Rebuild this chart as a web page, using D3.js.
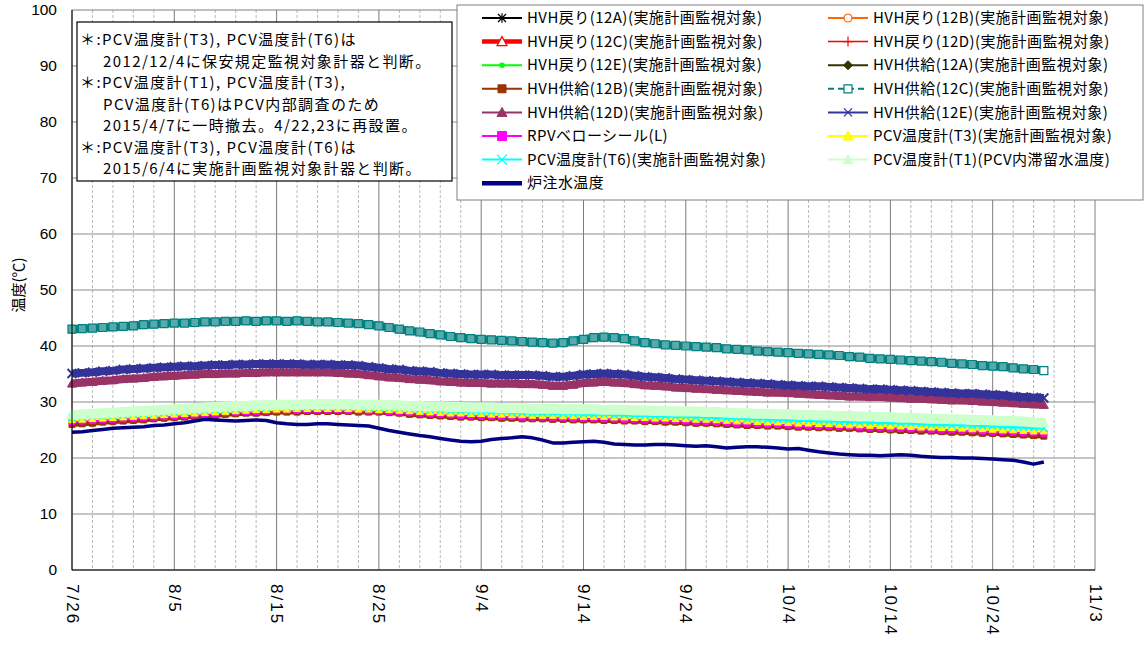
<!DOCTYPE html>
<html><head><meta charset="utf-8">
<script src="https://cdn.jsdelivr.net/npm/d3@7"></script>
<style>
body{margin:0;background:#fff}
svg{display:block}
text{font-family:"Noto Sans CJK JP","Liberation Sans",sans-serif;fill:#000}
.num{font-family:"Liberation Sans",Arial,sans-serif}
</style>
</head><body>
<svg id="c" width="1146" height="645"></svg>
<script>
// ---------------- data ----------------
const startDate = "2015-07-26";           // first daily value
const xTickLabels = ["7/26","8/5","8/15","8/25","9/4","9/14","9/24","10/4","10/14","10/24","11/3"];
const yTicks = [0,10,20,30,40,50,60,70,80,90,100];
const yTitle = "温度(℃)";

// HVH return lines and HVH supply 12A: nothing visible in this period
const hvhReturn12A = [];
const hvhReturn12B = [];
const hvhReturn12C = [];
const hvhReturn12D = [];
const hvhReturn12E = [];
const hvhSupply12A = [];

const hvhSupply12B = [
26.0,26.1,26.2,26.4,26.5,26.6,26.7,26.8,27.0,27.1,
27.2,27.3,27.4,27.5,27.6,27.8,27.9,28.0,28.0,28.1,
28.2,28.2,28.2,28.3,28.3,28.3,28.3,28.3,28.2,28.2,
28.2,28.1,28.0,27.8,27.7,27.6,27.5,27.4,27.3,27.3,
27.2,27.2,27.1,27.1,27.0,27.0,27.0,26.9,26.9,26.8,
26.8,26.8,26.7,26.7,26.6,26.6,26.5,26.5,26.4,26.4,
26.3,26.2,26.2,26.1,26.0,25.9,25.8,25.8,25.7,25.7,
25.6,25.5,25.5,25.4,25.4,25.3,25.3,25.2,25.1,25.1,
25.0,24.9,24.9,24.8,24.8,24.7,24.6,24.6,24.5,24.4,
24.4,24.3,24.2,24.1,24.0,23.9];

const hvhSupply12C = [
43.0,43.1,43.2,43.3,43.4,43.5,43.6,43.8,43.9,44.0,
44.1,44.1,44.2,44.3,44.3,44.4,44.4,44.5,44.4,44.5,
44.5,44.4,44.5,44.4,44.3,44.3,44.2,44.1,44.0,43.8,
43.6,43.3,43.0,42.7,42.5,42.2,42.0,41.7,41.5,41.3,
41.2,41.1,41.0,40.9,40.8,40.7,40.6,40.5,40.6,40.9,
41.2,41.5,41.6,41.5,41.3,40.9,40.6,40.4,40.2,40.1,
40.0,39.9,39.8,39.7,39.5,39.4,39.3,39.1,39.0,38.9,
38.8,38.7,38.6,38.5,38.4,38.3,38.1,38.0,37.8,37.7,
37.6,37.5,37.4,37.3,37.2,37.1,36.9,36.8,36.7,36.5,
36.4,36.3,36.1,35.9,35.8,35.6];

const hvhSupply12D = [
33.3,33.5,33.6,33.8,33.9,34.1,34.2,34.3,34.5,34.6,
34.7,34.8,34.9,35.0,35.0,35.1,35.1,35.2,35.2,35.3,
35.3,35.3,35.3,35.3,35.3,35.3,35.2,35.1,35.0,34.8,
34.6,34.4,34.3,34.1,34.0,33.9,33.7,33.6,33.5,33.4,
33.4,33.3,33.3,33.3,33.2,33.2,33.1,32.9,32.9,33.1,
33.4,33.5,33.6,33.5,33.4,33.2,33.0,32.9,32.8,32.6,
32.5,32.4,32.3,32.2,32.1,32.0,31.9,31.8,31.7,31.7,
31.6,31.5,31.4,31.3,31.2,31.1,31.0,31.0,30.9,30.9,
30.8,30.7,30.6,30.6,30.5,30.4,30.3,30.3,30.2,30.1,
30.0,29.9,29.8,29.7,29.6,29.5];

const hvhSupply12E = [
35.1,35.2,35.3,35.5,35.6,35.8,35.9,36.0,36.1,36.2,
36.3,36.4,36.4,36.5,36.6,36.6,36.7,36.7,36.8,36.8,
36.8,36.8,36.8,36.7,36.7,36.7,36.6,36.6,36.5,36.3,
36.1,35.9,35.8,35.6,35.5,35.4,35.2,35.1,35.0,34.9,
34.9,34.9,34.8,34.8,34.8,34.8,34.7,34.5,34.5,34.7,
34.9,35.0,35.1,35.0,34.9,34.7,34.5,34.4,34.3,34.1,
34.0,33.9,33.8,33.7,33.6,33.5,33.4,33.3,33.2,33.1,
33.0,32.9,32.8,32.8,32.7,32.6,32.5,32.4,32.3,32.3,
32.2,32.1,32.0,31.9,31.8,31.7,31.6,31.5,31.5,31.4,
31.3,31.2,31.0,30.9,30.8,30.7];

const rpvBellowsSeal = [
26.5,26.6,26.7,26.8,26.9,27.0,27.1,27.2,27.3,27.4,
27.5,27.6,27.7,27.8,27.9,28.1,28.2,28.3,28.3,28.4,
28.5,28.5,28.5,28.6,28.6,28.6,28.6,28.5,28.5,28.4,
28.4,28.3,28.2,28.1,28.0,27.9,27.8,27.7,27.6,27.6,
27.5,27.5,27.4,27.4,27.3,27.3,27.3,27.2,27.2,27.1,
27.1,27.1,27.0,27.0,26.9,26.9,26.8,26.8,26.7,26.7,
26.6,26.5,26.5,26.4,26.3,26.2,26.2,26.1,26.0,26.0,
25.9,25.8,25.8,25.7,25.7,25.6,25.6,25.5,25.4,25.4,
25.3,25.3,25.2,25.2,25.1,25.0,25.0,24.9,24.9,24.8,
24.7,24.7,24.6,24.5,24.5,24.4];

const pcvT3 = [
26.8,26.9,27.0,27.1,27.2,27.3,27.4,27.5,27.6,27.7,
27.8,27.9,28.0,28.1,28.2,28.3,28.4,28.5,28.6,28.6,
28.7,28.7,28.8,28.8,28.8,28.8,28.8,28.8,28.7,28.7,
28.6,28.6,28.5,28.4,28.3,28.2,28.1,28.0,28.0,27.9,
27.9,27.8,27.8,27.7,27.7,27.6,27.6,27.6,27.5,27.5,
27.4,27.4,27.4,27.3,27.3,27.2,27.2,27.1,27.1,27.0,
27.0,26.9,26.9,26.8,26.7,26.6,26.6,26.5,26.4,26.4,
26.3,26.2,26.2,26.1,26.1,26.0,25.9,25.9,25.8,25.8,
25.7,25.7,25.6,25.5,25.5,25.4,25.4,25.3,25.2,25.2,
25.1,25.0,25.0,24.9,24.8,24.8];

const pcvT6 = [
27.2,27.3,27.4,27.5,27.6,27.7,27.8,27.9,28.0,28.1,
28.2,28.3,28.4,28.5,28.6,28.7,28.8,28.9,29.0,29.0,
29.1,29.1,29.1,29.2,29.2,29.2,29.2,29.1,29.1,29.0,
29.0,28.9,28.9,28.8,28.7,28.6,28.5,28.4,28.4,28.3,
28.3,28.2,28.2,28.1,28.1,28.0,28.0,28.0,27.9,27.9,
27.8,27.8,27.8,27.7,27.7,27.6,27.6,27.5,27.5,27.4,
27.4,27.3,27.3,27.2,27.1,27.1,27.0,27.0,26.9,26.9,
26.8,26.7,26.7,26.6,26.6,26.5,26.5,26.4,26.4,26.3,
26.3,26.2,26.2,26.1,26.0,26.0,25.9,25.9,25.8,25.7,
25.7,25.6,25.5,25.5,25.4,25.3];

const pcvT1 = [
27.7,27.8,27.9,28.0,28.1,28.2,28.3,28.4,28.5,28.6,
28.7,28.8,28.9,29.0,29.1,29.2,29.3,29.3,29.4,29.4,
29.5,29.5,29.5,29.6,29.6,29.6,29.6,29.6,29.5,29.5,
29.5,29.4,29.4,29.3,29.3,29.2,29.2,29.1,29.1,29.0,
29.0,29.0,28.9,28.9,28.9,28.8,28.8,28.8,28.7,28.7,
28.7,28.7,28.6,28.6,28.6,28.5,28.5,28.4,28.4,28.3,
28.3,28.3,28.2,28.2,28.1,28.0,28.0,27.9,27.9,27.8,
27.8,27.7,27.7,27.6,27.6,27.5,27.5,27.4,27.4,27.3,
27.3,27.2,27.2,27.1,27.0,27.0,26.9,26.9,26.8,26.8,
26.7,26.6,26.6,26.5,26.4,26.3];

const injectionWaterTemp = [
24.6,24.7,24.9,25.1,25.3,25.4,25.5,25.6,25.8,25.9,
26.1,26.3,26.6,26.9,26.8,26.7,26.6,26.7,26.8,26.7,
26.3,26.1,26.0,26.0,26.1,26.1,26.0,25.9,25.8,25.7,
25.3,24.9,24.6,24.3,24.0,23.8,23.5,23.2,23.0,22.9,
23.0,23.3,23.5,23.6,23.8,23.6,23.2,22.7,22.7,22.8,
22.9,23.0,22.8,22.5,22.4,22.3,22.3,22.4,22.4,22.3,
22.2,22.1,22.2,22.0,21.8,21.9,22.0,22.0,21.9,21.8,
21.6,21.7,21.4,21.1,20.9,20.7,20.6,20.5,20.5,20.4,
20.5,20.6,20.5,20.3,20.2,20.1,20.1,20.0,20.0,19.9,
19.8,19.7,19.6,19.3,18.9,19.3];

const seriesNames = [
"HVH戻り(12A)(実施計画監視対象)","HVH戻り(12B)(実施計画監視対象)",
"HVH戻り(12C)(実施計画監視対象)","HVH戻り(12D)(実施計画監視対象)",
"HVH戻り(12E)(実施計画監視対象)","HVH供給(12A)(実施計画監視対象)",
"HVH供給(12B)(実施計画監視対象)","HVH供給(12C)(実施計画監視対象)",
"HVH供給(12D)(実施計画監視対象)","HVH供給(12E)(実施計画監視対象)",
"RPVベローシール(L)","PCV温度計(T3)(実施計画監視対象)",
"PCV温度計(T6)(実施計画監視対象)","PCV温度計(T1)(PCV内滞留水温度)",
"炉注水温度"];
const seriesValues = [hvhReturn12A,hvhReturn12B,hvhReturn12C,hvhReturn12D,hvhReturn12E,
  hvhSupply12A,hvhSupply12B,hvhSupply12C,hvhSupply12D,hvhSupply12E,
  rpvBellowsSeal,pcvT3,pcvT6,pcvT1,injectionWaterTemp];

const noteLines = [
 ["＊:PCV温度計(T3), PCV温度計(T6)は", 0],
 ["2012/12/4に保安規定監視対象計器と判断。", 1],
 ["＊:PCV温度計(T1), PCV温度計(T3),", 0],
 ["PCV温度計(T6)はPCV内部調査のため", 1],
 ["2015/4/7に一時撤去。4/22,23に再設置。", 1],
 ["＊:PCV温度計(T3), PCV温度計(T6)は", 0],
 ["2015/6/4に実施計画監視対象計器と判断。", 1]];

// ---------------- styles ----------------
const styles = [
 {c:"#000000", lw:2, plw:2, m:"asterisk", ms:4, mf:"none", msw:1.2},
 {c:"#ff6600", lw:2, plw:2, m:"circle", ms:4, mf:"#fff", msw:1.2},
 {c:"#ff0000", lw:4.5, plw:4, m:"triangle", ms:5, mf:"#fff", msw:1.2},
 {c:"#ff0000", lw:1.5, plw:1.5, m:"plus", ms:5, mf:"none", msw:1.2},
 {c:"#00ff00", lw:2, plw:2, m:"square", ms:2, mf:"#00ff00", msw:1},
 {c:"#333300", lw:2, plw:2, m:"diamond", ms:4.5, mf:"#333300", msw:1},
 {c:"#993300", lw:2, plw:5, m:"square", ms:4, mf:"#993300", msw:1, pms:3},
 {c:"#008080", lw:2, plw:8, m:"square", ms:4, mf:"#fff", msw:1.2, dash:"6,4", pms:4, pmf:"#58a9a9"},
 {c:"#993366", lw:2, plw:8, m:"triangle", ms:5, mf:"#993366", msw:1, pms:4.5},
 {c:"#333399", lw:2, plw:8, m:"x", ms:4, mf:"none", msw:1.3, pms:4.5, pmsw:2},
 {c:"#ff00ff", lw:2, plw:3, m:"square", ms:4.5, mf:"#ff00ff", msw:1, pms:3},
 {c:"#ffff00", lw:2, plw:3, m:"triangle", ms:5, mf:"#ffff00", msw:1, pms:3.5},
 {c:"#00ffff", lw:2, plw:3, m:"x", ms:5, mf:"none", msw:1.3, pms:3.5, pmsw:1.5},
 {c:"#ccffcc", lw:2, plw:10, m:"triangle", ms:5, mf:"#ccffcc", msw:1, pms:5},
 {c:"#000080", lw:4.5, plw:3.5, m:null}
];

function markerPath(t, s){
  switch(t){
    case "square": return `M${-s},${-s}H${s}V${s}H${-s}Z`;
    case "triangle": return `M0,${-s}L${s},${s*0.8}L${-s},${s*0.8}Z`;
    case "diamond": return `M0,${-s}L${s},0L0,${s}L${-s},0Z`;
    case "circle": return `M${s},0A${s},${s} 0 1,1 ${-s},0A${s},${s} 0 1,1 ${s},0Z`;
    case "x": return `M${-s},${-s}L${s},${s}M${-s},${s}L${s},${-s}`;
    case "plus": return `M${-s},0H${s}M0,${-s}V${s}`;
    case "asterisk": return `M${-s},${-s}L${s},${s}M${-s},${s}L${s},${-s}M0,${-s*1.2}V${s*1.2}`;
  }
  return "";
}

// ---------------- chart ----------------
const svg = d3.select("#c");
const start = d3.utcParse("%Y-%m-%d")(startDate);
const tickDates = xTickLabels.map((_,i)=>d3.utcDay.offset(start, i*10));
const x = d3.scaleUtc().domain([tickDates[0], tickDates[tickDates.length-1]]).range([72,1095]);
const y = d3.scaleLinear().domain([0,100]).range([570,10]);
const day = i => d3.utcDay.offset(start, i);

// grid
const grid = svg.append("g");
const nDays = (xTickLabels.length-1)*10;
for(let k=2;k<nDays;k+=2){
  const major = k%10===0;
  grid.append("line").attr("x1",x(day(k))).attr("x2",x(day(k)))
    .attr("y1",y(100)).attr("y2",y(0))
    .attr("stroke", major?"#7a7a7a":"#b8b8b8")
    .attr("stroke-width",1)
    .attr("stroke-dasharray", major?null:"3,2");
}
yTicks.forEach(v=>{ if(v>0 && v<100)
  grid.append("line").attr("x1",x.range()[0]).attr("x2",x.range()[1])
    .attr("y1",y(v)).attr("y2",y(v)).attr("stroke","#8c8c8c").attr("stroke-width",1);
});
svg.append("rect").attr("x",x.range()[0]).attr("y",y(100))
  .attr("width",x.range()[1]-x.range()[0]).attr("height",y(0)-y(100))
  .attr("fill","none").attr("stroke","#808080");

// series
const plot = svg.append("g");
seriesValues.forEach((vals,si)=>{
  const st = styles[si];
  if(!vals.length) return;
  const pts = vals.map((v,i)=>[x(day(i)), y(v)]);
  plot.append("path").attr("d", d3.line()(pts)).attr("fill","none")
    .attr("stroke", st.c).attr("stroke-width", st.plw).attr("stroke-linejoin","round");
  if(st.m){
    const s = st.pms||st.ms;
    plot.append("g").selectAll("path").data(pts).join("path")
      .attr("transform",d=>`translate(${d[0]},${d[1]})`)
      .attr("d", markerPath(st.m, s))
      .attr("fill",(d,i)=> (st.m==="x"||st.m==="plus"||st.m==="asterisk") ? "none" : (i===pts.length-1 && st.pmf ? "#fff" : (st.pmf||st.mf)))
      .attr("stroke", st.c).attr("stroke-width", st.pmsw||st.msw);
  }
});

// axes lines
svg.append("line").attr("x1",72).attr("x2",72).attr("y1",y(100)).attr("y2",y(0)).attr("stroke","#000");
svg.append("line").attr("x1",72).attr("x2",x.range()[1]).attr("y1",y(0)).attr("y2",y(0)).attr("stroke","#000");

const ya = svg.append("g").attr("transform","translate(72,0)")
  .call(d3.axisLeft(y).tickValues(yTicks).tickSize(0).tickPadding(15));
ya.select(".domain").remove();
ya.selectAll("text").attr("class","num").style("font-size","15.5px").attr("fill","#000");

const xa = svg.append("g").attr("transform",`translate(0,${y(0)})`)
  .call(d3.axisBottom(x).tickValues(tickDates).tickFormat((d,i)=>xTickLabels[i]).tickSize(0));
xa.select(".domain").remove();
xa.selectAll("text").attr("class","num").style("font-size","17px").style("letter-spacing","2px")
  .attr("transform","rotate(90)").attr("x",14).attr("y",0).attr("dy","0.35em")
  .attr("text-anchor","start").attr("fill","#000");

svg.append("text").attr("transform","translate(19,285) rotate(-90)")
  .attr("text-anchor","middle").attr("dy","0.35em").style("font-size","15px").text(yTitle);

// note box
const nb = svg.append("g");
nb.append("rect").attr("x",77).attr("y",22).attr("width",375).attr("height",159)
  .attr("fill","#fff").attr("stroke","#000").attr("stroke-width",1.2);
noteLines.forEach((l,i)=>{
  nb.append("text").attr("x", l[1]?103:80).attr("y", 40+i*21.5).attr("dy","0.35em")
    .style("font-size","15px").style("letter-spacing","1.4px").text(l[0]);
});

// legend
const lg = svg.append("g");
lg.append("rect").attr("x",457).attr("y",5).attr("width",686).attr("height",195)
  .attr("fill","#fff").attr("stroke","#808080");
seriesNames.forEach((name,i)=>{
  const st = styles[i];
  const col = i%2, row = Math.floor(i/2);
  const lx = col? 828 : 482, ly = 18 + row*23.6;
  lg.append("line").attr("x1",lx).attr("x2",lx+40).attr("y1",ly).attr("y2",ly)
    .attr("stroke",st.c).attr("stroke-width",st.lw).attr("stroke-dasharray",st.dash||null);
  if(st.m){
    lg.append("path").attr("transform",`translate(${lx+20},${ly})`)
      .attr("d",markerPath(st.m, st.ms))
      .attr("fill",(st.m==="x"||st.m==="plus"||st.m==="asterisk")?"none":st.mf)
      .attr("stroke",st.c).attr("stroke-width",st.msw);
  }
  lg.append("text").attr("x",lx+45).attr("y",ly).attr("dy","0.35em")
    .style("font-size","15px").style("letter-spacing","0.45px").text(name);
});
</script>
</body></html>
